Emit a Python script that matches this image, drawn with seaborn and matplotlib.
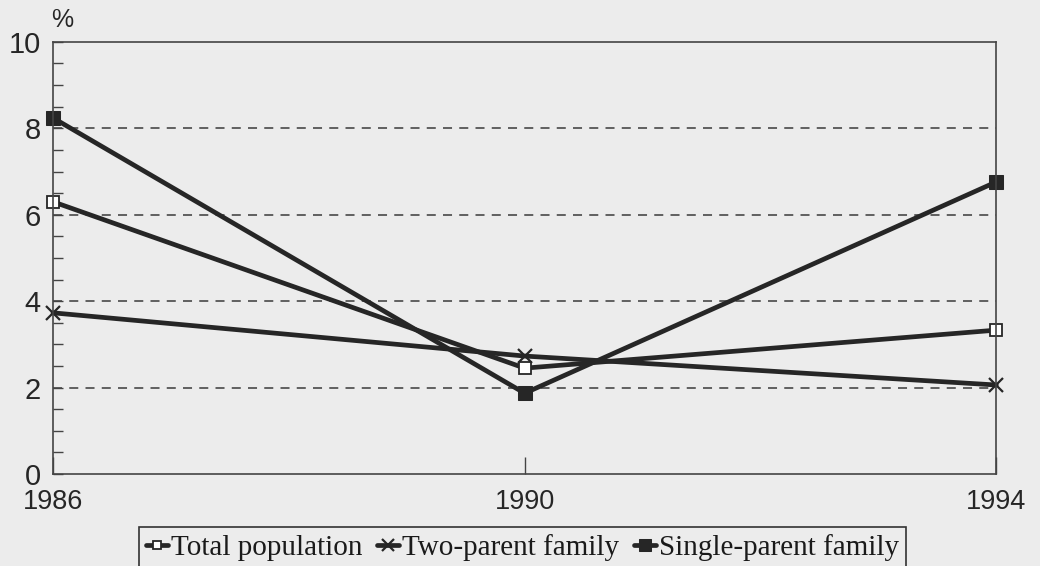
import matplotlib
import numpy as np
import matplotlib.pyplot as plt
plt.switch_backend('agg')
import pandas as pd
import seaborn as sns

years = [1986, 1990, 1994]
total_population = [6.3, 2.45, 3.33]
two_parent = [3.73, 2.73, 2.06]
single_parent = [8.24, 1.87, 6.76]
series_names = ['Total population', 'Two-parent family', 'Single-parent family']

sns.set_style('white')
plt.rcParams['font.family'] = ['Liberation Sans', 'DejaVu Sans']

bg = '#ececec'
ink = '#262626'

fig = plt.figure(figsize=(10.4, 5.66), dpi=100, facecolor=bg)
ax = fig.add_axes([0.051, 0.1625, 0.907, 0.7635])
ax.set_facecolor(bg)

styles = [
    dict(marker='s', markersize=8, markerfacecolor='white', markeredgecolor=ink, markeredgewidth=1.3),
    dict(marker='x', markersize=10, markeredgecolor=ink, markeredgewidth=1.6),
    dict(marker='s', markersize=10, markerfacecolor=ink, markeredgecolor=ink),
]
for name, vals, st in zip(series_names, [total_population, two_parent, single_parent], styles):
    sns.lineplot(x=years, y=vals, ax=ax, color=ink, linewidth=3.4, label=name, clip_on=False, **st)

for g in [2, 4, 6, 8]:
    ax.axhline(g, color='#555555', linestyle=(0, (5, 4)), linewidth=1.3, zorder=0)

ax.set_xlim(1986, 1994)
ax.set_ylim(0, 10)
ax.set_xticks(years)
ax.set_yticks([0, 2, 4, 6, 8, 10])
ax.set_yticks(np.arange(0, 10.01, 0.5), minor=True)
ax.tick_params(which='both', left=True, bottom=True, direction='in', color='#444444', width=1)
ax.tick_params(axis='x', which='major', length=12, labelsize=19.5, labelcolor=ink, pad=11)
ax.tick_params(axis='y', which='major', length=7, labelsize=21, labelcolor=ink, pad=9)
ax.tick_params(axis='y', which='minor', length=7)
for sp in ax.spines.values():
    sp.set_color('#444444')
    sp.set_linewidth(1.2)
ax.set_xlabel('')
ax.set_ylabel('')

fig.text(0.06, 0.965, '%', fontsize=18, color=ink, ha='center', va='center')

leg = ax.legend(loc='upper center', bbox_to_anchor=(0.5025, 0.069), bbox_transform=fig.transFigure,
                borderaxespad=0, ncol=3, frameon=True, fancybox=False, edgecolor='#333333',
                facecolor=bg, framealpha=1, handlelength=0.75, handletextpad=0.1,
                columnspacing=0.5, borderpad=0.25, markerscale=0.8,
                prop={'family': 'Liberation Serif', 'size': 21})
leg.get_frame().set_linewidth(1.2)
for t in leg.get_texts():
    t.set_color('#1a1a1a')

fig.savefig('out.png', dpi=100, facecolor=bg)
